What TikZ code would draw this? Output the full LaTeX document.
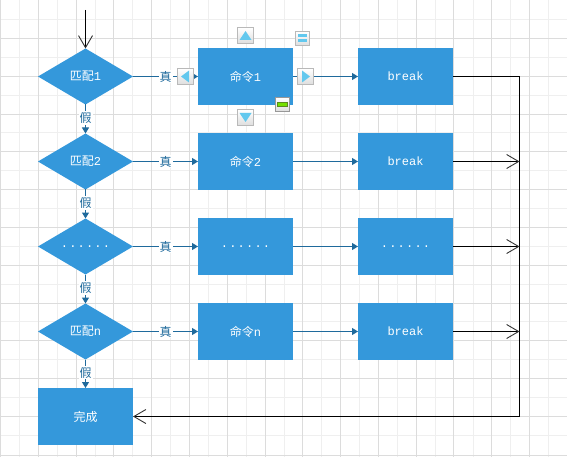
\documentclass[tikz,border=0pt]{standalone}
\usepackage{fontspec}
\setmainfont{Liberation Mono}
\newfontfamily\cjk{Noto Sans CJK SC}
\usetikzlibrary{shapes.geometric,arrows.meta}
\definecolor{boxblue}{HTML}{3498DB}
\definecolor{linkblue}{HTML}{1F6A9C}
\definecolor{gridmaj}{HTML}{DCDCDC}
\definecolor{gridmin}{HTML}{EFEFEF}
\definecolor{arrowsky}{HTML}{62C8EE}
\definecolor{btnedge}{HTML}{B9B9B9}
\definecolor{minusedge}{HTML}{989898}
\definecolor{minusfill}{HTML}{74E000}
\definecolor{minusline}{HTML}{5A8A20}
\newcommand{\gapdots}{.\kern1.2pt.\kern1.2pt.\kern1.2pt.\kern1.2pt.\kern1.2pt.}
\tikzset{
  x=1pt,y=-1pt,
  every node/.style={inner sep=0pt,outer sep=0pt},
  decision/.style={diamond,shape aspect=1.696,minimum width=95pt,minimum height=56pt,fill=boxblue,text=white,font=\fontsize{12}{12}\selectfont},
  actionbox/.style={rectangle,minimum width=95pt,minimum height=57pt,fill=boxblue,text=white,font=\fontsize{12}{12}\selectfont},
  link/.style={draw=linkblue,line width=1pt,-{Triangle[length=6pt,width=7pt,fill=linkblue]}},
  returnline/.style={draw=black,line width=1pt},
  opentip/.style={-{Straight Barb[length=12pt,width=14pt,line width=0.9pt,color=black!80]}},
  linklabel/.style={fill=white,text=linkblue,inner sep=1pt,font=\cjk\fontsize{12}{12}\selectfont},
  handle/.style={rectangle,minimum size=15.5pt,draw=btnedge,line width=1pt,top color=white,bottom color=black!13},
  smallhandle/.style={rectangle,minimum size=13.5pt,draw=btnedge,line width=1pt,top color=white,bottom color=black!13},
  glyph/.style={fill=arrowsky,draw=none},
}
\begin{document}
\begin{tikzpicture}
\useasboundingbox (0,0) rectangle (567,457);
\fill[white] (0,0) rectangle (567,457);
% grid: every line sits on a pixel centre
\foreach \p in {19,57,95,132,170,208,246,284,321,359,397,435,473,510,548}{
  \draw[gridmin,line width=1pt] ({\p+.5},0) -- ({\p+.5},457);
}
\foreach \p in {19,57,95,132,170,208,246,284,321,359,397,435}{
  \draw[gridmin,line width=1pt] (0,{\p+.5}) -- (567,{\p+.5});
}
\foreach \p in {0,38,76,113,151,189,227,265,302,340,378,416,453,491,529}{
  \draw[gridmaj,line width=1pt] ({\p+.5},0) -- ({\p+.5},457);
}
\foreach \p in {38,76,114,151,189,227,265,303,340,378,416,455}{
  \draw[gridmaj,line width=1pt] (0,{\p+.5}) -- (567,{\p+.5});
}
% nodes
\coordinate (start) at (85.5,10);
\node[decision] (m1) at (85.5,76.5) {{\cjk 匹配}1};
\node[decision] (m2) at (85.5,161.5) {{\cjk 匹配}2};
\node[decision] (m3) at (85.5,246.5) {\gapdots};
\node[decision] (m4) at (85.5,331.5) {{\cjk 匹配}n};
\node[actionbox] (done) at (85.5,416.5) {\cjk 完成};
\node[actionbox] (c1) at (245.5,76.5) {{\cjk 命令}1};
\node[actionbox] (c2) at (245.5,161.5) {{\cjk 命令}2};
\node[actionbox] (c3) at (245.5,246.5) {\gapdots};
\node[actionbox] (c4) at (245.5,331.5) {{\cjk 命令}n};
\node[actionbox] (b1) at (405.5,76.5) {break};
\node[actionbox] (b2) at (405.5,161.5) {break};
\node[actionbox] (b3) at (405.5,246.5) {\gapdots};
\node[actionbox] (b4) at (405.5,331.5) {break};
\coordinate (j1) at (519.5,76.5);
\coordinate (j2) at (519.5,161.5);
\coordinate (j3) at (519.5,246.5);
\coordinate (j4) at (519.5,331.5);
\coordinate (j5) at (519.5,416.5);
% connectors
\draw[returnline,opentip] (start) -- (m1.north);
\foreach \a/\b in {m1/m2,m2/m3,m3/m4,m4/done}
  \draw[link] (\a.south) -- node[linklabel,yshift=1pt]{假} (\b.north);
\foreach \a/\b in {m1/c1,m2/c2,m3/c3,m4/c4}
  \draw[link] (\a.east) -- node[linklabel]{真} (\b.west);
\foreach \a/\b in {c1/b1,c2/b2,c3/b3,c4/b4}
  \draw[link] (\a.east) -- (\b.west);
\draw[returnline] (b1.east) -- (j1) -- (j5);
\draw[returnline,opentip] (j5) -- (done.east);
\draw[returnline,opentip] (b2.east) -- (j2);
\draw[returnline,opentip] (b3.east) -- (j3);
\draw[returnline,opentip] (b4.east) -- (j4);
% selection handles
\node[handle] (up) at (245.5,35.5) {};
\node[handle] (down) at (245.5,117.5) {};
\node[handle] (left) at (185.5,76.5) {};
\node[handle] (right) at (305.5,76.5) {};
\node[smallhandle] (menu) at (302.5,38.5) {};
\node[smallhandle,draw=minusedge] (minus) at (282.5,104.5) {};
\fill[glyph] (245.5,31) -- (251.5,40) -- (239.5,40) -- cycle;
\fill[glyph] (245.5,122) -- (251.5,113) -- (239.5,113) -- cycle;
\fill[glyph] (181,76.5) -- (189,70.5) -- (189,82.5) -- cycle;
\fill[glyph] (310,76.5) -- (302,70.5) -- (302,82.5) -- cycle;
\fill[glyph] (298,34.5) rectangle (307,37.5);
\fill[glyph] (298,39.5) rectangle (307,42.5);
\fill[minusfill,draw=minusline,line width=0.7pt] (277.5,102) rectangle (287.5,106.5);
\end{tikzpicture}
\end{document}
